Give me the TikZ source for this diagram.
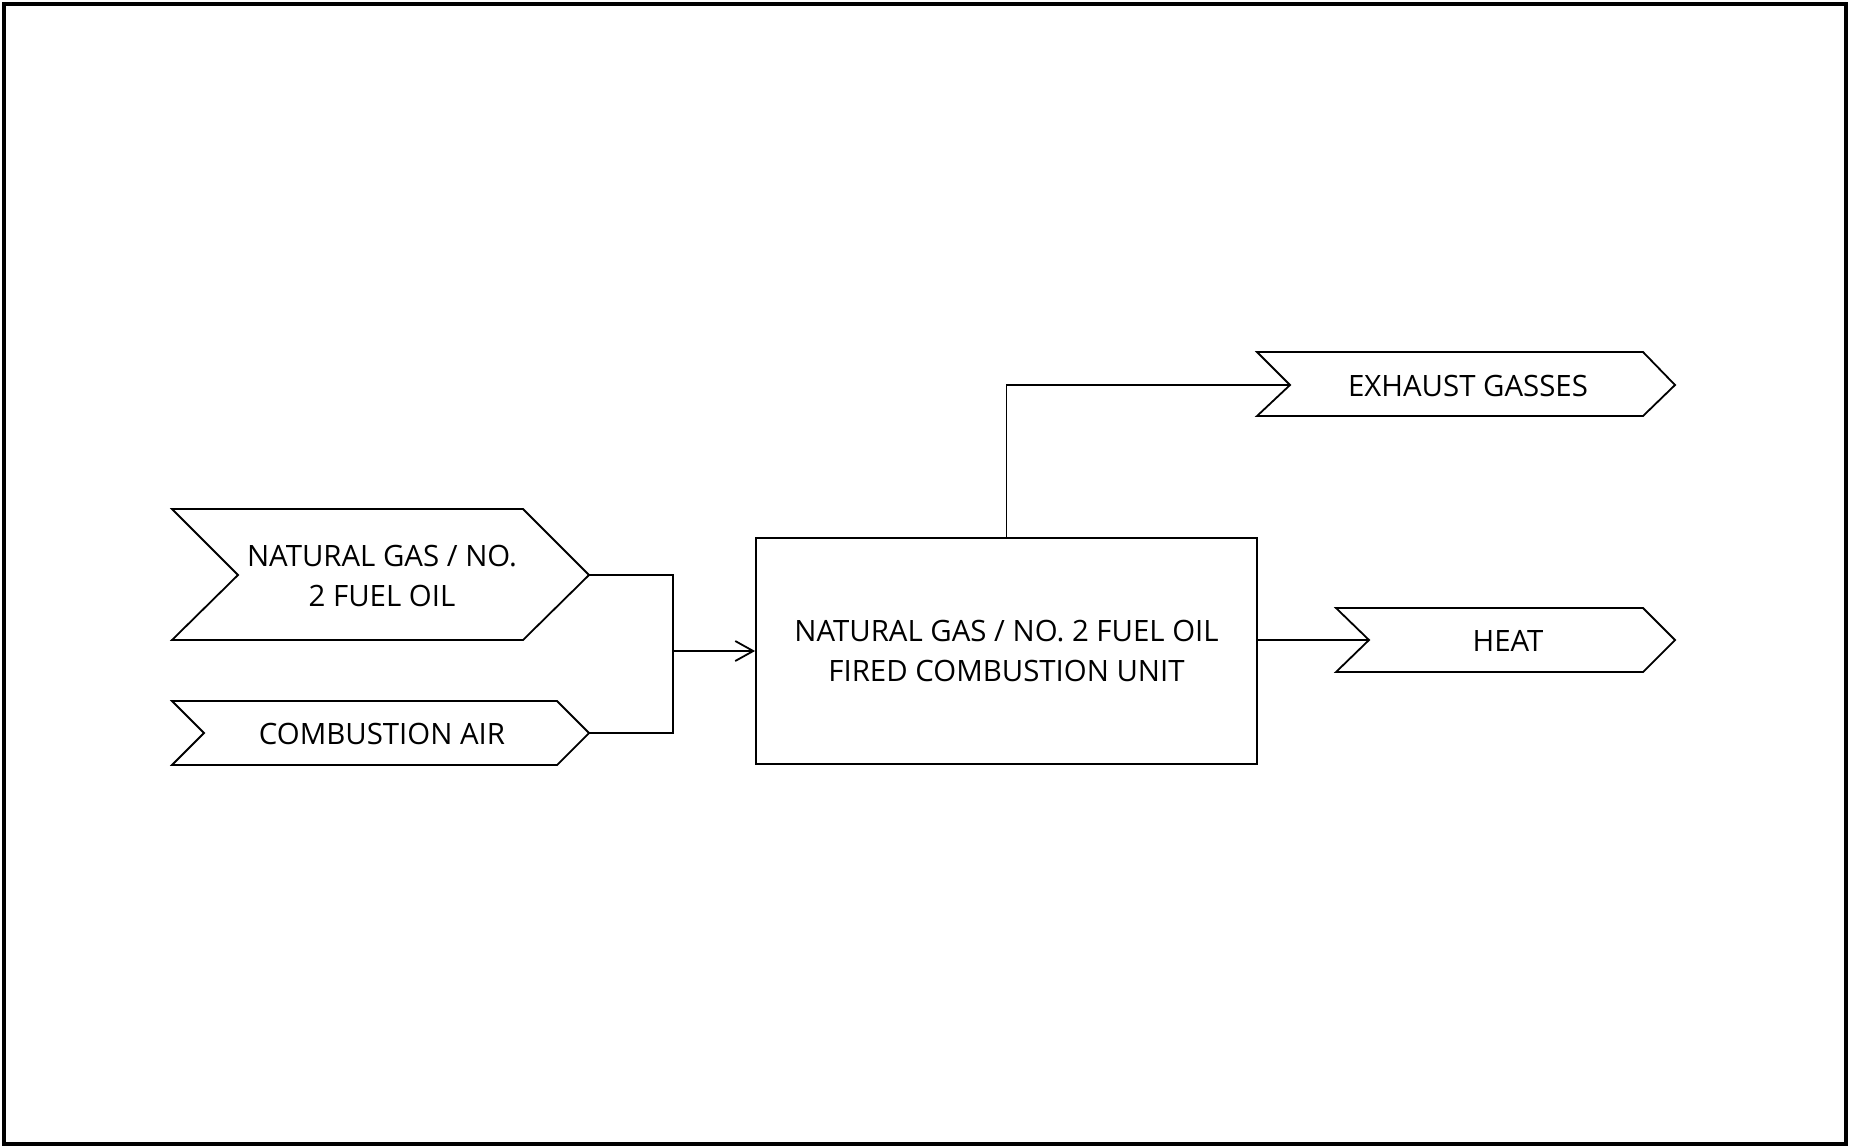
\documentclass[tikz,border=0pt]{standalone}
\usepackage{fontspec}
\setmainfont{Open Sans}
\usetikzlibrary{arrows.meta}
\begin{document}
\begin{tikzpicture}[x=0.5pt,y=-0.5pt,
  lbl/.style={font=\fontsize{14.7}{20}\selectfont, align=center, inner sep=0pt},
  shp/.style={draw, line width=0.9pt, line join=miter},
  conn/.style={draw, line width=0.9pt},
  arr/.style={conn, -{Straight Barb[length=9pt,width=10pt,line width=0.9pt]}}]
\useasboundingbox (0,0) rectangle (1851,1147);
\draw[line width=1.6pt] (4,4) rectangle (1846,1144);
% natural gas chevron
\draw[shp] (172,509) -- (523,509) -- (589,575) -- (523,640) -- (172,640) -- (238,575) -- cycle;
\coordinate (ngtip) at (589,575);
\node[lbl] (ng) at (382,576) {NATURAL GAS / NO.\\2 FUEL OIL};
% combustion air chevron
\draw[shp] (172,701) -- (557,701) -- (589,733) -- (557,765) -- (172,765) -- (204,733) -- cycle;
\coordinate (catip) at (589,733);
\node[lbl] (ca) at (382,734) {COMBUSTION AIR};
% combustion unit box
\node[lbl, draw, line width=0.9pt, minimum width=250.5pt, minimum height=113pt] (box) at (1006.5,651) {NATURAL GAS / NO. 2 FUEL OIL\\FIRED COMBUSTION UNIT};
% exhaust chevron
\draw[shp] (1257,352) -- (1643,352) -- (1675,385) -- (1643,416) -- (1257,416) -- (1290,385) -- cycle;
\coordinate (exnotch) at (1290,385);
\node[lbl] (ex) at (1468,386) {EXHAUST GASSES};
% heat chevron
\draw[shp] (1336,608) -- (1643,608) -- (1675,640) -- (1643,672) -- (1336,672) -- (1369,640) -- cycle;
\coordinate (htnotch) at (1369,640);
\node[lbl] (ht) at (1508,641) {HEAT};
% connectors
\coordinate (j) at (673,651);
\draw[conn] (ngtip) -| (j);
\draw[conn] (catip) -| (j);
\draw[arr] (j) -- (box.west);
\draw[conn] (box.north) |- (exnotch);
\draw[conn] (box.east |- htnotch) -- (htnotch);
\end{tikzpicture}
\end{document}
